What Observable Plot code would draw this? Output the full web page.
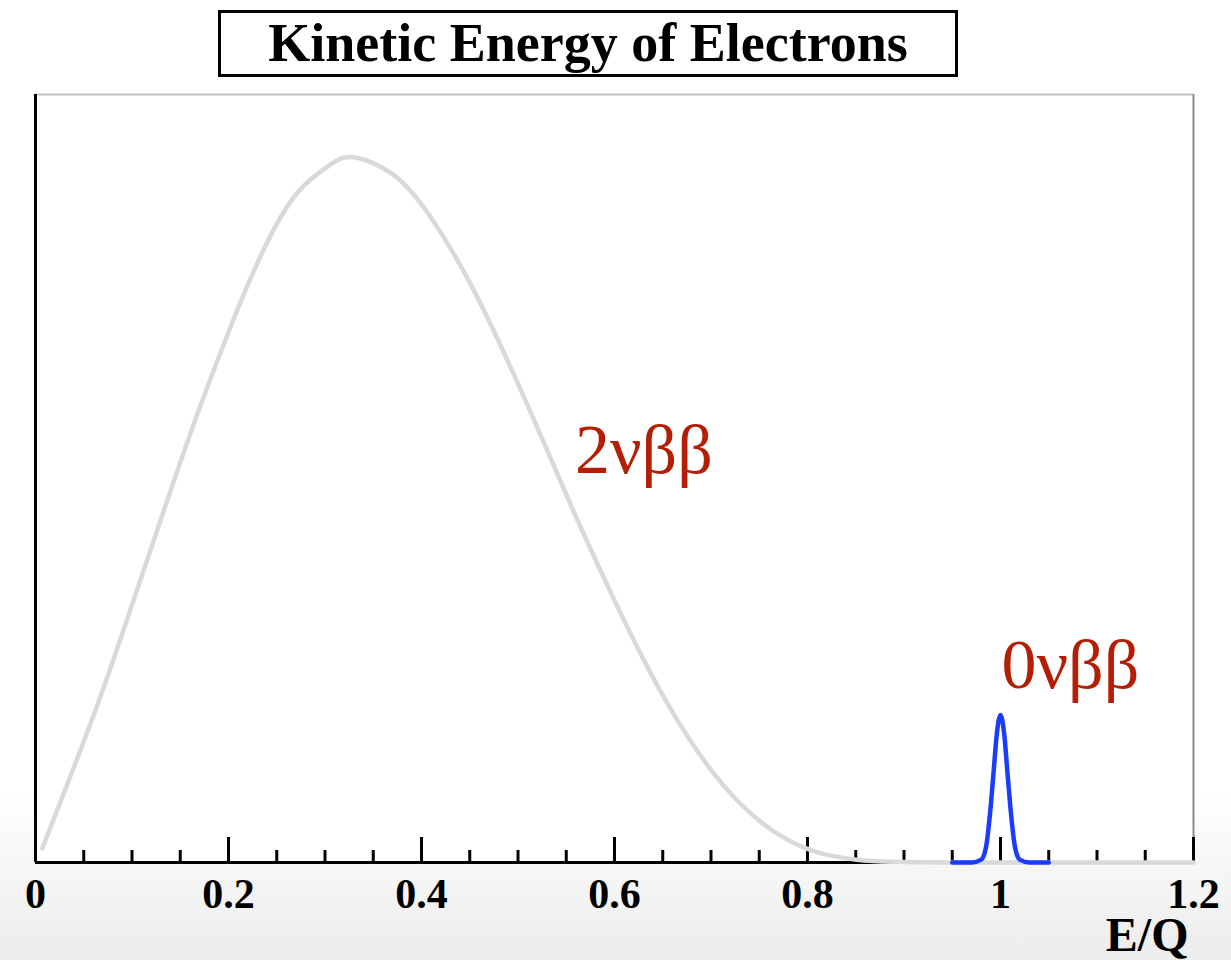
<!DOCTYPE html>
<html>
<head>
<meta charset="utf-8">
<script src="https://cdn.jsdelivr.net/npm/d3@7"></script>
<script src="https://cdn.jsdelivr.net/npm/@observablehq/plot@0.6"></script>
<style>
html, body { margin: 0; padding: 0; }
body {
  width: 1231px; height: 960px; position: relative; overflow: hidden;
  background: linear-gradient(to bottom, #ffffff 0px, #ffffff 790px, #ececec 960px);
}
#title {
  position: absolute; left: 218px; top: 10px; width: 734px; height: 61px;
  border: 3px solid #000; background: #fff; z-index: 2;
  font: bold 54px "Liberation Serif", "Times New Roman", serif;
  text-align: center; line-height: 61px; white-space: nowrap;
}
#chart { position: absolute; left: 0; top: 0; }
</style>
</head>
<body>
<div id="title"></div>
<div id="chart"></div>
<script>
const titleText = "Kinetic Energy of Electrons";
const xAxisLabel = "E/Q";

// 2νββ continuum (E/Q, relative intensity, peak = 1)
const energy2nu = [0.007, 0.029, 0.064, 0.098, 0.133, 0.167, 0.202, 0.236, 0.271, 0.305, 0.330, 0.371, 0.408, 0.445, 0.482, 0.519, 0.556, 0.593, 0.630, 0.666, 0.703, 0.740, 0.777, 0.814, 0.851, 0.888, 0.950, 1.000, 1.200];
const counts2nu = [0.020, 0.097, 0.223, 0.357, 0.499, 0.633, 0.759, 0.868, 0.949, 0.989, 1.000, 0.975, 0.918, 0.835, 0.733, 0.620, 0.503, 0.392, 0.288, 0.200, 0.126, 0.071, 0.034, 0.013, 0.004, 0.001, 0.000, 0.000, 0.000];

// 0νββ peak
const energy0nu = [0.950, 0.970, 0.980, 0.985, 0.990, 0.993, 0.996, 1.000, 1.004, 1.007, 1.010, 1.015, 1.020, 1.030, 1.050];
const counts0nu = [0.000, 0.000, 0.004, 0.022, 0.082, 0.131, 0.180, 0.209, 0.180, 0.131, 0.082, 0.022, 0.004, 0.000, 0.000];

const majorTicks = [0, 0.2, 0.4, 0.6, 0.8, 1, 1.2];
const majorTickLabels = ["0", "0.2", "0.4", "0.6", "0.8", "1", "1.2"];
const minorTicks = [0.05, 0.1, 0.15, 0.25, 0.3, 0.35, 0.45, 0.5, 0.55, 0.65, 0.7, 0.75, 0.85, 0.9, 0.95, 1.05, 1.1, 1.15];

const labelTexts = ["2νββ", "0νββ"];
const labelX = [0.559, 1.001];
const labelY = [0.553, 0.247];

const xDomain = [0, 1.2];
const yDomain = [0, 1.089];

document.getElementById("title").textContent = titleText;

const serif = "'Liberation Serif', 'Times New Roman', serif";
const curve2 = energy2nu.map((x, i) => ({x, y: counts2nu[i]}));
const curve0 = energy0nu.map((x, i) => ({x, y: counts0nu[i]}));
const labels = labelTexts.map((t, i) => ({t, x: labelX[i], y: labelY[i]}));

const chart = Plot.plot({
  width: 1231,
  height: 960,
  marginLeft: 35,
  marginRight: 38,
  marginTop: 94,
  marginBottom: 98,
  style: {background: "transparent", overflow: "visible"},
  x: {domain: xDomain, axis: null},
  y: {domain: yDomain, axis: null},
  marks: [
    Plot.frame({fill: "white", stroke: "none"}),
    Plot.ruleY([yDomain[1]], {stroke: "#c4c4c4", strokeWidth: 2}),
    Plot.ruleX([xDomain[1]], {stroke: "#8a8a8a", strokeWidth: 2}),
    Plot.ruleX([xDomain[0]], {stroke: "black", strokeWidth: 3}),
    Plot.axisX(minorTicks, {tickSize: -12, strokeWidth: 3, text: null, label: null}),
    Plot.axisX(majorTicks, {tickSize: -25, strokeWidth: 3, text: null, label: null}),
    Plot.ruleY([0], {stroke: "black", strokeWidth: 3}),
    Plot.line(curve2, {x: "x", y: "y", curve: "natural", stroke: "#d9d9d9", strokeWidth: 4.5}),
    Plot.line(curve0, {x: "x", y: "y", curve: "monotone-x", stroke: "#1a3cff", strokeWidth: 4.5}),
    Plot.text(majorTicks, {x: d => d, frameAnchor: "bottom", dy: 45, lineAnchor: "bottom", text: (d, i) => majorTickLabels[i], fontSize: 42, fontWeight: "bold", fontFamily: serif, fill: "black"}),
    Plot.text([xAxisLabel], {frameAnchor: "bottom-right", dx: -5, dy: 88, textAnchor: "end", lineAnchor: "bottom", fontSize: 48, fontWeight: "bold", fontFamily: serif, fill: "black"}),
    Plot.text(labels, {x: "x", y: "y", text: "t", textAnchor: "start", lineAnchor: "bottom", fontSize: 70, fontFamily: serif, fill: "#b31e05"})
  ]
});
document.getElementById("chart").appendChild(chart);
</script>
</body>
</html>
